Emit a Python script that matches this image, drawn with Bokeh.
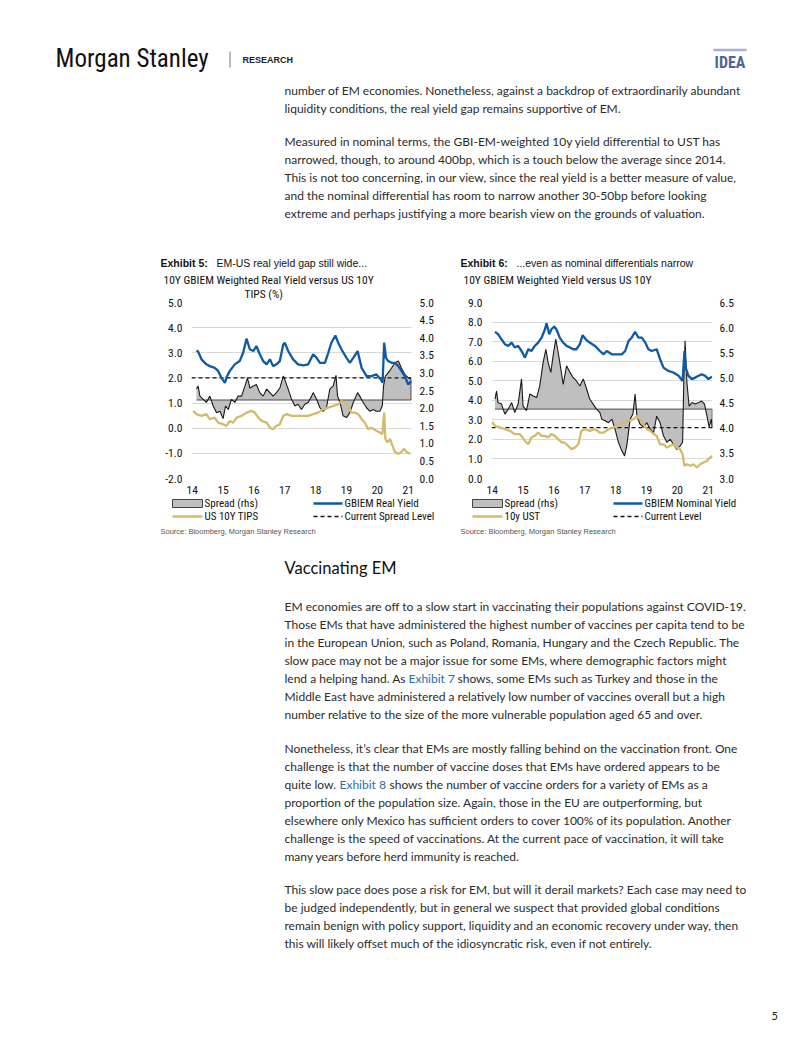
from bokeh.plotting import figure
from bokeh.models import Range1d, LinearAxis, FixedTicker, NumeralTickFormatter, Title
from bokeh.layouts import column, row
from bokeh.embed import file_html
from bokeh.resources import INLINE
from bokeh.core.properties import value

# ---------------- DATA ----------------
year_ticks = [2014, 2015, 2016, 2017, 2018, 2019, 2020, 2021]
year_labels = ["14", "15", "16", "17", "18", "19", "20", "21"]

# Exhibit 5
c1_left_ticks = [-2, -1, 0, 1, 2, 3, 4, 5]
c1_right_ticks = [0, 0.5, 1, 1.5, 2, 2.5, 3, 3.5, 4, 4.5, 5]
c1_real_x = [2014.14, 2014.19, 2014.30, 2014.46, 2014.57, 2014.73, 2014.84, 2014.95, 2015.06, 2015.12,
             2015.22, 2015.38, 2015.54, 2015.65, 2015.76, 2015.87, 2015.98, 2016.08, 2016.19, 2016.30,
             2016.41, 2016.52, 2016.62, 2016.73, 2016.84, 2016.95, 2017.00, 2017.11, 2017.27, 2017.43,
             2017.60, 2017.76, 2017.92, 2018.03, 2018.14, 2018.30, 2018.41, 2018.51, 2018.64, 2018.73,
             2018.84, 2019.00, 2019.11, 2019.22, 2019.36, 2019.49, 2019.65, 2019.81, 2019.97, 2020.11,
             2020.17, 2020.22, 2020.28, 2020.35, 2020.46, 2020.57, 2020.68, 2020.78, 2020.89, 2021.00, 2021.09]
c1_real_y = [3.10, 3.05, 2.74, 2.54, 2.47, 2.40, 2.28, 2.00, 1.80, 2.05,
             2.28, 2.54, 2.67, 3.00, 3.56, 3.13, 3.07, 3.27, 2.94, 2.67,
             2.54, 2.74, 2.47, 2.54, 2.67, 3.33, 3.40, 3.07, 2.74, 2.54,
             2.50, 2.54, 2.94, 2.80, 2.60, 2.60, 3.00, 3.40, 3.69, 3.40,
             3.13, 2.80, 2.60, 2.80, 3.07, 2.40, 2.07, 2.07, 2.14, 1.94,
             1.81, 3.40, 2.80, 2.67, 2.60, 2.60, 2.47, 2.28, 2.07, 1.74, 1.87]
c1_spread_x = [2014.14, 2014.19, 2014.25, 2014.36, 2014.46, 2014.57, 2014.68, 2014.79, 2014.90, 2015.00,
               2015.08, 2015.17, 2015.27, 2015.38, 2015.49, 2015.60, 2015.71, 2015.79, 2015.87, 2015.98,
               2016.08, 2016.19, 2016.30, 2016.41, 2016.52, 2016.62, 2016.73, 2016.84, 2016.95, 2017.00,
               2017.11, 2017.22, 2017.33, 2017.43, 2017.54, 2017.65, 2017.76, 2017.87, 2017.92, 2018.03,
               2018.14, 2018.24, 2018.35, 2018.46, 2018.57, 2018.66, 2018.71, 2018.79, 2018.89, 2019.00,
               2019.11, 2019.22, 2019.36, 2019.43, 2019.54, 2019.65, 2019.76, 2019.87, 2019.97, 2020.08,
               2020.16, 2020.20, 2020.26, 2020.35, 2020.46, 2020.57, 2020.68, 2020.78, 2020.89, 2021.00, 2021.09]
c1_spread_y = [2.54, 2.63, 2.34, 2.25, 2.16, 2.34, 2.06, 1.87, 1.91, 1.70,
               2.06, 1.96, 2.25, 2.16, 2.34, 2.34, 2.63, 2.86, 2.57, 2.63,
               2.67, 2.44, 2.34, 2.54, 2.44, 2.34, 2.44, 2.57, 2.91, 2.81,
               2.54, 2.25, 2.06, 2.11, 1.96, 2.11, 2.16, 2.34, 2.44, 2.25,
               2.01, 1.91, 2.01, 2.54, 2.63, 2.93, 2.34, 2.16, 1.78, 1.73,
               1.87, 2.16, 2.44, 2.34, 2.16, 2.01, 1.91, 1.96, 1.91, 1.91,
               2.06, 2.63, 2.91, 3.00, 3.14, 3.29, 3.34, 3.14, 2.96, 2.86, 2.83]
c1_tips_x = [2014.03, 2014.14, 2014.30, 2014.46, 2014.57, 2014.73, 2014.84, 2015.00, 2015.11, 2015.22,
             2015.33, 2015.44, 2015.60, 2015.76, 2015.92, 2016.03, 2016.14, 2016.25, 2016.41, 2016.52,
             2016.62, 2016.73, 2016.84, 2016.95, 2017.06, 2017.22, 2017.38, 2017.54, 2017.65, 2017.76,
             2017.92, 2018.08, 2018.24, 2018.41, 2018.57, 2018.73, 2018.84, 2018.95, 2019.06, 2019.16,
             2019.27, 2019.38, 2019.49, 2019.60, 2019.70, 2019.81, 2019.97, 2020.08, 2020.16, 2020.22,
             2020.26, 2020.33, 2020.41, 2020.49, 2020.57, 2020.68, 2020.78, 2020.87, 2020.95, 2021.05]
c1_tips_y = [0.69, 0.56, 0.49, 0.56, 0.36, 0.42, 0.22, 0.16, 0.09, 0.29,
             0.22, 0.42, 0.49, 0.62, 0.69, 0.62, 0.42, 0.29, 0.22, 0.02,
             -0.04, 0.09, 0.16, 0.49, 0.56, 0.49, 0.49, 0.49, 0.49, 0.49,
             0.56, 0.62, 0.75, 0.82, 0.89, 0.95, 1.08, 1.02, 0.89, 0.62,
             0.62, 0.56, 0.36, 0.22, -0.04, 0.02, -0.10, -0.17, -0.24, 0.62,
             -0.43, -0.56, -0.43, -0.69, -0.95, -1.02, -0.95, -0.82, -0.95, -1.02]
c1_spread_base = 2.23      # axis crossing of the spread area (rhs)
c1_current_spread = 2.86   # current spread level (rhs)

# Exhibit 6
c2_left_ticks = [0, 1, 2, 3, 4, 5, 6, 7, 8, 9]
c2_right_ticks = [3.0, 3.5, 4.0, 4.5, 5.0, 5.5, 6.0, 6.5]
c2_nom_x = [2014.09, 2014.19, 2014.30, 2014.41, 2014.52, 2014.63, 2014.73, 2014.84, 2014.95, 2015.06,
            2015.17, 2015.27, 2015.38, 2015.49, 2015.60, 2015.71, 2015.76, 2015.85, 2015.92, 2016.01,
            2016.08, 2016.19, 2016.30, 2016.41, 2016.52, 2016.62, 2016.73, 2016.84, 2016.93, 2017.03,
            2017.16, 2017.33, 2017.49, 2017.61, 2017.71, 2017.88, 2018.04, 2018.20, 2018.31, 2018.42,
            2018.52, 2018.63, 2018.74, 2018.85, 2018.96, 2019.06, 2019.17, 2019.33, 2019.44, 2019.55,
            2019.71, 2019.87, 2020.04, 2020.17, 2020.23, 2020.27, 2020.36, 2020.47, 2020.58, 2020.69,
            2020.79, 2020.90, 2021.01, 2021.12]
c2_nom_y = [7.50, 7.38, 7.12, 6.87, 6.78, 6.95, 6.70, 6.78, 6.52, 6.18,
            6.61, 6.52, 6.78, 6.95, 7.20, 7.63, 7.94, 7.38, 7.63, 7.77,
            7.63, 7.20, 6.95, 6.78, 6.70, 6.61, 6.61, 6.87, 7.33, 7.12,
            6.95, 6.78, 6.52, 6.35, 6.52, 6.35, 6.35, 6.35, 6.52, 7.04,
            7.20, 7.50, 7.20, 7.20, 6.95, 6.61, 6.52, 6.61, 6.10, 5.67,
            5.50, 5.42, 5.25, 4.99, 6.52, 5.67, 5.25, 5.08, 5.16, 5.25,
            5.33, 5.25, 5.08, 5.21]
c2_spread_x = [2014.09, 2014.14, 2014.19, 2014.30, 2014.41, 2014.52, 2014.63, 2014.73, 2014.84, 2014.95,
               2015.00, 2015.11, 2015.22, 2015.33, 2015.44, 2015.54, 2015.65, 2015.74, 2015.81, 2015.90,
               2015.98, 2016.06, 2016.12, 2016.19, 2016.30, 2016.41, 2016.52, 2016.62, 2016.73, 2016.84,
               2016.95, 2017.06, 2017.16, 2017.27, 2017.38, 2017.49, 2017.55, 2017.66, 2017.77, 2017.88,
               2017.98, 2018.09, 2018.20, 2018.29, 2018.36, 2018.47, 2018.56, 2018.63, 2018.69, 2018.79,
               2018.90, 2019.01, 2019.12, 2019.23, 2019.33, 2019.44, 2019.55, 2019.66, 2019.77, 2019.87,
               2019.98, 2020.09, 2020.17, 2020.21, 2020.25, 2020.31, 2020.38, 2020.47, 2020.58, 2020.69,
               2020.79, 2020.88, 2020.96, 2021.03, 2021.10, 2021.13]
c2_spread_y = [4.58, 4.74, 4.51, 4.48, 4.28, 4.38, 4.51, 4.31, 4.48, 4.98,
               4.44, 4.35, 4.68, 4.64, 4.61, 4.84, 5.31, 5.57, 5.31, 5.11,
               5.47, 5.77, 5.57, 5.31, 4.87, 5.24, 5.11, 5.01, 4.94, 4.84,
               4.98, 4.78, 4.58, 4.48, 4.38, 4.31, 4.18, 4.15, 4.11, 4.18,
               3.98, 3.72, 3.55, 3.45, 3.65, 4.18, 4.28, 4.68, 4.24, 4.08,
               4.02, 4.11, 3.98, 3.91, 4.24, 4.11, 3.85, 3.72, 3.78, 3.68,
               3.58, 3.65, 3.72, 4.98, 5.74, 4.91, 4.44, 4.51, 4.48, 4.51,
               4.54, 4.48, 4.24, 4.02, 4.18, 4.01]
c2_ust_x = [2014.00, 2014.09, 2014.25, 2014.41, 2014.57, 2014.73, 2014.90, 2015.06, 2015.17, 2015.27,
            2015.38, 2015.49, 2015.60, 2015.71, 2015.81, 2015.92, 2016.03, 2016.14, 2016.25, 2016.35,
            2016.46, 2016.57, 2016.68, 2016.79, 2016.89, 2017.00, 2017.16, 2017.33, 2017.49, 2017.61,
            2017.77, 2017.93, 2018.09, 2018.25, 2018.42, 2018.58, 2018.69, 2018.79, 2018.90, 2019.01,
            2019.12, 2019.23, 2019.33, 2019.44, 2019.55, 2019.66, 2019.77, 2019.87, 2019.98, 2020.09,
            2020.17, 2020.23, 2020.31, 2020.42, 2020.52, 2020.63, 2020.74, 2020.85, 2020.96, 2021.06, 2021.14]
c2_ust_y = [2.90, 2.69, 2.61, 2.52, 2.44, 2.27, 2.27, 1.93, 1.75, 2.10,
            2.18, 2.35, 2.18, 2.18, 2.10, 2.27, 2.18, 2.01, 1.84, 1.84,
            1.67, 1.50, 1.58, 1.75, 2.44, 2.52, 2.44, 2.52, 2.35, 2.35,
            2.52, 2.61, 2.78, 2.86, 2.95, 3.03, 3.20, 3.03, 2.78, 2.52,
            2.44, 2.27, 2.18, 1.75, 1.75, 1.58, 1.67, 1.75, 1.58, 1.50,
            1.24, 0.65, 0.73, 0.65, 0.73, 0.56, 0.73, 0.82, 0.90, 1.07, 1.16]
c2_spread_base = 4.38
c2_current_level = 4.01

# ---------------- TEXT ----------------
para_top = [
    "number of EM economies. Nonetheless, against a backdrop of extraordinarily abundant",
    "liquidity conditions, the real yield gap remains supportive of EM.",
]
para_nominal = [
    "Measured in nominal terms, the GBI-EM-weighted 10y yield differential to UST has",
    "narrowed, though, to around 400bp, which is a touch below the average since 2014.",
    "This is not too concerning, in our view, since the real yield is a better measure of value,",
    "and the nominal differential has room to narrow another 30-50bp before looking",
    "extreme and perhaps justifying a more bearish view on the grounds of valuation.",
]
para_vacc = [
    "EM economies are off to a slow start in vaccinating their populations against COVID-19.",
    "Those EMs that have administered the highest number of vaccines per capita tend to be",
    "in the European Union, such as Poland, Romania, Hungary and the Czech Republic. The",
    "slow pace may not be a major issue for some EMs, where demographic factors might",
    None,
    "Middle East have administered a relatively low number of vaccines overall but a high",
    "number relative to the size of the more vulnerable population aged 65 and over.",
]
para_behind = [
    "Nonetheless, it\u2019s clear that EMs are mostly falling behind on the vaccination front. One",
    "challenge is that the number of vaccine doses that EMs have ordered appears to be",
    None,
    "proportion of the population size. Again, those in the EU are outperforming, but",
    "elsewhere only Mexico has sufficient orders to cover 100% of its population. Another",
    "challenge is the speed of vaccinations. At the current pace of vaccination, it will take",
    "many years before herd immunity is reached.",
]
para_risk = [
    "This slow pace does pose a risk for EM, but will it derail markets? Each case may need to",
    "be judged independently, but in general we suspect that provided global conditions",
    "remain benign with policy support, liquidity and an economic recovery under way, then",
    "this will likely offset much of the idiosyncratic risk, even if not entirely.",
]

BODY_FONT = "Lato"
BODY_SIZE = "12px"
BODY_COLOR = "#2b2b2b"
LINK_COLOR = "#2c6cb0"
CH_FONT = "Roboto Condensed"
BLUE = "#0f5aa6"
GOLD = "#d3bb6c"
GRAY = "#bfbfbf"
GRID = "#d9d9d9"

TOP_H = 270          # page rows: top text / charts / bottom text
CH_H = 226
CH_TOP = 31
CH_BOTTOM = 18
X_RANGE = (2013.977, 2021.139)


def page_fig(w, h, x0, y0):
    p = figure(width=w, height=h, x_range=Range1d(x0, x0 + w), y_range=Range1d(y0 + h, y0),
               x_axis_location=None, y_axis_location=None, output_backend="svg",
               toolbar_location=None, min_border=0)
    p.grid.visible = False
    p.outline_line_color = None
    p.background_fill_color = "white"
    p.border_fill_color = "white"
    return p


def txt(p, x, y, s, size, color=BODY_COLOR, font=BODY_FONT, style="normal", align="left"):
    p.text(x=[x], y=[y], text=[s], text_font=value(font), text_font_size=size,
           text_color=color, text_font_style=style, text_align=align, text_baseline="middle")


def para(p, lines, y0, step=18, x=284):
    for i, s in enumerate(lines):
        if s:
            txt(p, x, y0 + i * step, s, BODY_SIZE)


# ---------------- TOP ----------------
top = page_fig(786, TOP_H, 0, 0)
txt(top, 55, 58, "Morgan Stanley", "25px", color="#111", font="Roboto Condensed")
top.line([229.5, 229.5], [51, 67], line_color="#777", line_width=1)
txt(top, 242, 59, "RESEARCH", "9px", color="#222", font="Liberation Sans", style="bold")
top.line([713, 746], [49.5, 49.5], line_color="#a8b0d4", line_width=2.5)
txt(top, 729.5, 62, "IDEA", "16px", color="#4f6494", font=CH_FONT, style="bold", align="center")
para(top, para_top, 90)
para(top, para_nominal, 141)
txt(top, 160, 262, "Exhibit 5:", "10.5px", color="#111", font="Liberation Sans", style="bold")
txt(top, 216, 262, "EM-US real yield gap still wide...", "10.5px", color="#111", font="Liberation Sans")
txt(top, 460, 262, "Exhibit 6:", "10.5px", color="#111", font="Liberation Sans", style="bold")
txt(top, 516, 262, "...even as nominal differentials narrow", "10.5px", color="#111", font="Liberation Sans")


# ---------------- CHARTS ----------------
def style_axis(ax, standoff):
    ax.axis_line_color = None
    ax.major_tick_line_color = None
    ax.minor_tick_line_color = None
    ax.major_tick_in = 0
    ax.major_tick_out = 0
    ax.major_label_standoff = standoff
    ax.major_label_text_font = CH_FONT
    ax.major_label_text_font_size = "11.5px"
    ax.major_label_text_color = "#111"


def chart(width, bl, br, left_ticks, right_ticks, yl, yr,
          main_x, main_y, sp_x, sp_y, base, level, sec_x, sec_y, subtitle):
    p = figure(width=width, height=CH_H, min_border_left=bl, min_border_right=br,
               min_border_top=CH_TOP, min_border_bottom=CH_BOTTOM,
               x_range=Range1d(*X_RANGE), y_range=Range1d(*yl),
               output_backend="svg", toolbar_location=None)
    p.outline_line_color = None
    p.background_fill_color = "white"
    p.border_fill_color = "white"
    p.extra_y_ranges = {"r": Range1d(*yr)}
    p.xgrid.visible = False
    p.ygrid.ticker = FixedTicker(ticks=left_ticks)
    p.ygrid.grid_line_color = GRID
    p.ygrid.grid_line_width = 1.2

    xa = p.xaxis[0]
    xa.ticker = FixedTicker(ticks=year_ticks)
    xa.major_label_overrides = dict(zip(year_ticks, year_labels))
    style_axis(xa, 7)
    ya = p.yaxis[0]
    ya.ticker = FixedTicker(ticks=left_ticks)
    ya.formatter = NumeralTickFormatter(format="0.0")
    style_axis(ya, 9)
    ra = LinearAxis(y_range_name="r", ticker=FixedTicker(ticks=right_ticks),
                    formatter=NumeralTickFormatter(format="0.0"))
    style_axis(ra, 7)
    p.add_layout(ra, "right")

    # spread area (rhs), outlined
    p.varea(x=sp_x, y1=sp_y, y2=[base] * len(sp_x), y_range_name="r", fill_color=GRAY)
    p.line([sp_x[0], sp_x[-1], sp_x[-1]], [base, base, sp_y[-1]], y_range_name="r",
           line_color="#4d4d4d", line_width=1)
    p.line(sp_x, sp_y, y_range_name="r", line_color="#1a1a1a", line_width=1.1)
    # current level
    p.line([X_RANGE[0], sp_x[-1]], [level, level], y_range_name="r",
           line_color="#111", line_width=1.2, line_dash="4 3")
    # series on lhs
    p.line(sec_x, sec_y, line_color=GOLD, line_width=2.3)
    p.line(main_x, main_y, line_color=BLUE, line_width=2.3)

    # chart sub-title lines (nearest to the frame first); offset in px from frame left
    for s, off, valign in subtitle:
        p.add_layout(Title(text=s, align="left", offset=off, standoff=0, vertical_align=valign,
                           text_font=CH_FONT, text_font_size="11.5px",
                           text_font_style="normal", text_color="#111"), "above")
    return p


c1 = chart(458, 191, 46, c1_left_ticks, c1_right_ticks, (-2, 5), (0, 5),
           c1_real_x, c1_real_y, c1_spread_x, c1_spread_y, c1_spread_base, c1_current_spread,
           c1_tips_x, c1_tips_y,
           [("TIPS (%)", 53, "top"), ("10Y GBIEM Weighted Real Yield versus US 10Y", -28, "bottom")])
c2 = chart(336, 33, 82, c2_left_ticks, c2_right_ticks, (0, 9), (3, 6.5),
           c2_nom_x, c2_nom_y, c2_spread_x, c2_spread_y, c2_spread_base, c2_current_level,
           c2_ust_x, c2_ust_y,
           [(" ", 0, "top"), ("10Y GBIEM Weighted Yield versus US 10Y", -28, "bottom")])

# ---------------- BOTTOM ----------------
BOT_Y0 = TOP_H + CH_H
bot = page_fig(794, 1029 - BOT_Y0, 0, BOT_Y0)


def legend(p, dx, blue_label, gold_label, dash_label):
    p.quad(left=[172 + dx], right=[202 + dx], top=[499], bottom=[507],
           fill_color=GRAY, line_color="#444", line_width=1)
    txt(p, 204 + dx, 503, "Spread (rhs)", "11px", color="#111", font=CH_FONT)
    p.line([172 + dx, 202 + dx], [516, 516], line_color=GOLD, line_width=2.5)
    txt(p, 204 + dx, 516, gold_label, "11px", color="#111", font=CH_FONT)
    p.line([313 + dx, 342 + dx], [503, 503], line_color=BLUE, line_width=2.5)
    txt(p, 344 + dx, 503, blue_label, "11px", color="#111", font=CH_FONT)
    p.line([313 + dx, 342 + dx], [516, 516], line_color="#111", line_width=1.3, line_dash="4 3")
    txt(p, 344 + dx, 516, dash_label, "11px", color="#111", font=CH_FONT)


legend(bot, 0, "GBIEM Real Yield", "US 10Y TIPS", "Current Spread Level")
legend(bot, 300, "GBIEM Nominal Yield", "10y UST", "Current Level")
txt(bot, 160, 531, "Source: Bloomberg, Morgan Stanley Research", "7.5px", color="#555", font="Liberation Sans")
txt(bot, 460, 531, "Source: Bloomberg, Morgan Stanley Research", "7.5px", color="#555", font="Liberation Sans")

txt(bot, 284, 567, "Vaccinating EM", "16.5px", color="#111")
para(bot, para_vacc, 606)
txt(bot, 284, 678, "lend a helping hand. As", BODY_SIZE)
txt(bot, 408, 678, "Exhibit 7", BODY_SIZE, color=LINK_COLOR)
txt(bot, 457, 678, "shows, some EMs such as Turkey and those in the", BODY_SIZE)
para(bot, para_behind, 748)
txt(bot, 284, 784, "quite low.", BODY_SIZE)
txt(bot, 339, 784, "Exhibit 8", BODY_SIZE, color=LINK_COLOR)
txt(bot, 389, 784, "shows the number of vaccine orders for a variety of EMs as a", BODY_SIZE)
para(bot, para_risk, 889)
txt(bot, 771, 1015, "5", "11px", color="#222")

layout = column(top, row(c1, c2), bot)
open("out.html", "w").write(file_html(layout, INLINE))
